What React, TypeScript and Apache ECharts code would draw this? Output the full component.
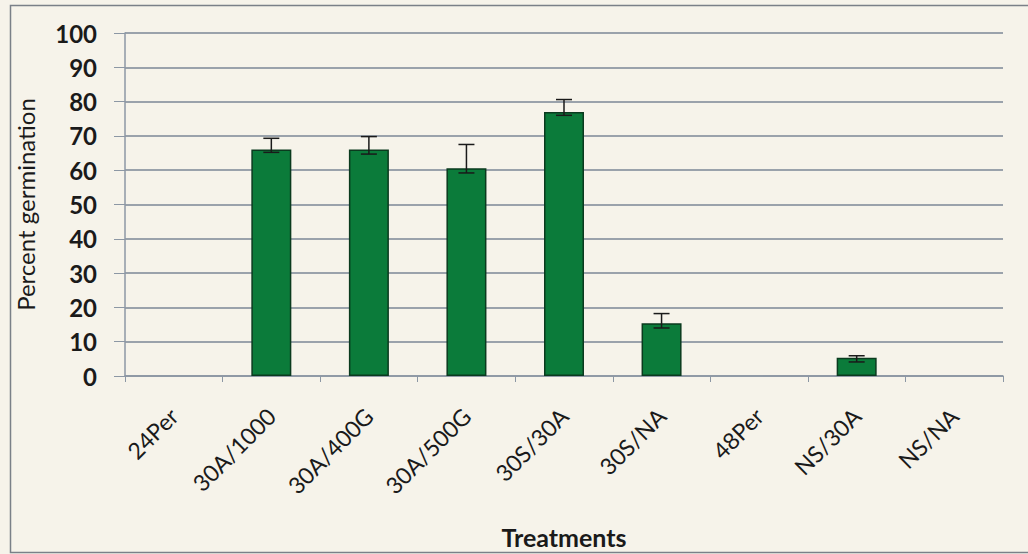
import React, { useEffect, useRef } from "react";
import * as echarts from "echarts";

const categories = ["24Per", "30A/1000", "30A/400G", "30A/500G", "30S/30A", "30S/NA", "48Per", "NS/30A", "NS/NA"];
const germination = [0, 66.0, 66.0, 60.6, 77.0, 15.4, 0, 5.3, 0];
const errHigh = [null, 69.3, 69.8, 67.5, 80.6, 18.2, null, 5.9, null];
const errLow = [null, 65.2, 64.7, 59.2, 76.0, 14.0, null, 4.1, null];
const yTicks = [0, 10, 20, 30, 40, 50, 60, 70, 80, 90, 100];

export default function App() {
  const ref = useRef<HTMLDivElement>(null);
  useEffect(() => {
    const chart = echarts.init(ref.current!, null, { renderer: "svg" });
    const errData = categories
      .map((c, i) => [i, errLow[i], errHigh[i]])
      .filter((d) => d[1] !== null);
    const barData = germination.map((v) =>
      v === 0 ? { value: v, itemStyle: { borderWidth: 0, opacity: 0 } } : v
    );
    chart.setOption({
      animation: false,
      backgroundColor: "#F6F3EA",
      grid: { left: 125, top: 33, right: 25, bottom: 177 },
      graphic: [
        {
          type: "rect",
          shape: { x: 10.5, y: 5.5, width: 1030, height: 547 },
          style: { fill: "none", stroke: "#7a8088", lineWidth: 1.5 },
          silent: true,
        },
      ],
      xAxis: {
        type: "category",
        data: categories,
        name: "Treatments",
        nameLocation: "middle",
        nameGap: 148,
        nameTextStyle: { fontFamily: "Lato", fontWeight: "bold", fontSize: 25, color: "#1a1a1a" },
        axisLine: { lineStyle: { color: "#8c97a4", width: 1.5 } },
        axisTick: { show: true, length: 6, lineStyle: { color: "#8c97a4" } },
        axisLabel: {
          rotate: 45,
          interval: 0,
          fontFamily: "Lato",
          fontSize: 23,
          color: "#1a1a1a",
          margin: 36,
        },
      },
      yAxis: {
        type: "value",
        min: 0,
        max: 100,
        interval: 10,
        name: "Percent germination",
        nameLocation: "middle",
        nameGap: 88,
        nameTextStyle: { fontFamily: "Lato", fontSize: 24, color: "#1a1a1a" },
        axisLine: { show: true, lineStyle: { color: "#8c97a4", width: 1.5 } },
        axisTick: { show: true, length: 11, lineStyle: { color: "#8c97a4" } },
        splitLine: { lineStyle: { color: "#7b8796", width: 1.5 } },
        axisLabel: {
          fontFamily: "Lato",
          fontWeight: "bold",
          fontSize: 24,
          color: "#1a1a1a",
          margin: 28,
          formatter: (v: number) => (yTicks.includes(v) ? String(v) : ""),
        },
      },
      series: [
        {
          type: "bar",
          data: barData,
          barWidth: 40,
          itemStyle: { color: "#0B7B3A", borderColor: "#0A3A1E", borderWidth: 1.5 },
          z: 2,
        },
        {
          type: "custom",
          data: errData,
          z: 3,
          renderItem: (params: any, api: any) => {
            const x = api.value(0);
            const lo = api.coord([x, api.value(1)]);
            const hi = api.coord([x, api.value(2)]);
            const cap = 8;
            const style = { stroke: "#1a1a1a", lineWidth: 1.5 };
            return {
              type: "group",
              children: [
                { type: "line", shape: { x1: hi[0], y1: hi[1], x2: lo[0], y2: lo[1] }, style },
                { type: "line", shape: { x1: hi[0] - cap, y1: hi[1], x2: hi[0] + cap, y2: hi[1] }, style },
                { type: "line", shape: { x1: lo[0] - cap, y1: lo[1], x2: lo[0] + cap, y2: lo[1] }, style },
              ],
            };
          },
        },
      ],
    });
    return () => chart.dispose();
  }, []);
  return <div ref={ref} style={{ position: "fixed", left: 0, top: 0, width: 1028, height: 554 }} />;
}
